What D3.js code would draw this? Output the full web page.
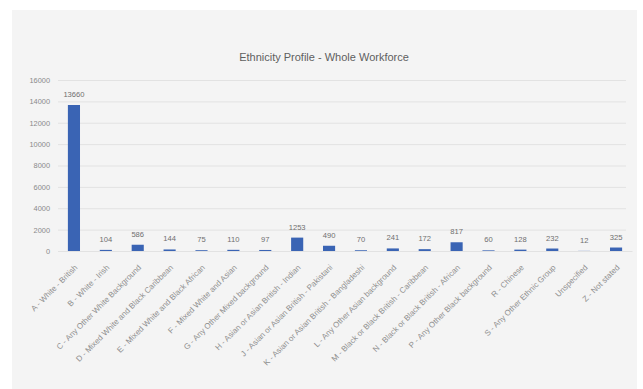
<!DOCTYPE html>
<html>
<head>
<meta charset="utf-8">
<script src="https://cdn.jsdelivr.net/npm/d3@7"></script>
<style>
  body { margin: 0; background: #ffffff; }
  svg { display: block; font-family: "Liberation Sans", "DejaVu Sans", sans-serif; }
</style>
</head>
<body>
<svg id="chart" width="643" height="389"></svg>
<script>
// Staff headcount by ethnic origin
const categories = [
  "A - White - British",
  "B - White - Irish",
  "C - Any Other White Background",
  "D - Mixed White and Black Caribbean",
  "E - Mixed White and Black African",
  "F - Mixed White and Asian",
  "G - Any Other Mixed background",
  "H - Asian or Asian British - Indian",
  "J - Asian or Asian British - Pakistani",
  "K - Asian or Asian British - Bangladeshi",
  "L - Any Other Asian background",
  "M - Black or Black British - Caribbean",
  "N - Black or Black British - African",
  "P - Any Other Black background",
  "R - Chinese",
  "S - Any Other Ethnic Group",
  "Unspecified",
  "Z - Not stated"
];
const headcount = [13660, 104, 586, 144, 75, 110, 97, 1253, 490, 70, 241, 172, 817, 60, 128, 232, 12, 325];
const yTicks = [0, 2000, 4000, 6000, 8000, 10000, 12000, 14000, 16000];

const svg = d3.select("#chart");

// chart panel
svg.append("rect")
  .attr("x", 12).attr("y", 10)
  .attr("width", 625).attr("height", 379)
  .attr("fill", "#f4f4f4");

const plot = { left: 58, right: 632, top: 80, bottom: 251 };

const x = d3.scaleBand()
  .domain(categories)
  .range([plot.left, plot.right])
  .paddingInner(0.62)
  .paddingOuter(0.31);

const y = d3.scaleLinear()
  .domain([0, 16000])
  .range([plot.bottom, plot.top]);

// gridlines + y labels
const yAxis = d3.axisLeft(y)
  .tickValues(yTicks)
  .tickSize(-(plot.right - plot.left - 6))
  .tickPadding(8)
  .tickFormat(d3.format("d"));

const gy = svg.append("g")
  .attr("transform", `translate(${plot.left},0)`)
  .call(yAxis);
gy.select(".domain").remove();
gy.selectAll(".tick line").attr("stroke", "#e2e2e2").attr("stroke-width", 1);
gy.selectAll(".tick text")
  .attr("fill", "#8a8a8a")
  .attr("font-size", 7.4);

// category axis
const xAxis = d3.axisBottom(x).tickSize(0).tickPadding(0);
const gx = svg.append("g")
  .attr("transform", `translate(0,${plot.bottom})`)
  .call(xAxis);
gx.select(".domain").attr("stroke", "#e2e2e2");
gx.selectAll(".tick text")
  .attr("fill", "#8f8f8f")
  .attr("font-size", 8)
  .attr("text-anchor", "end")
  .attr("x", 0).attr("y", 0)
  .attr("dy", "0.35em")
  .attr("transform", "translate(2,15) rotate(-45)");

// bars
svg.append("g")
  .selectAll("rect")
  .data(headcount)
  .join("rect")
  .attr("x", (d, i) => x(categories[i]))
  .attr("y", d => y(d))
  .attr("width", x.bandwidth())
  .attr("height", d => y(0) - y(d))
  .attr("fill", "#3a64b4");

// value labels
svg.append("g")
  .selectAll("text")
  .data(headcount)
  .join("text")
  .attr("x", (d, i) => x(categories[i]) + x.bandwidth() / 2)
  .attr("y", d => y(d) - 8)
  .attr("text-anchor", "middle")
  .attr("fill", "#6f6f6f")
  .attr("font-size", 7.6)
  .text(d => d);

// title
svg.append("text")
  .attr("x", 324).attr("y", 61)
  .attr("text-anchor", "middle")
  .attr("fill", "#5f5f5f")
  .attr("font-size", 11)
  .text("Ethnicity Profile - Whole Workforce");
</script>
</body>
</html>
